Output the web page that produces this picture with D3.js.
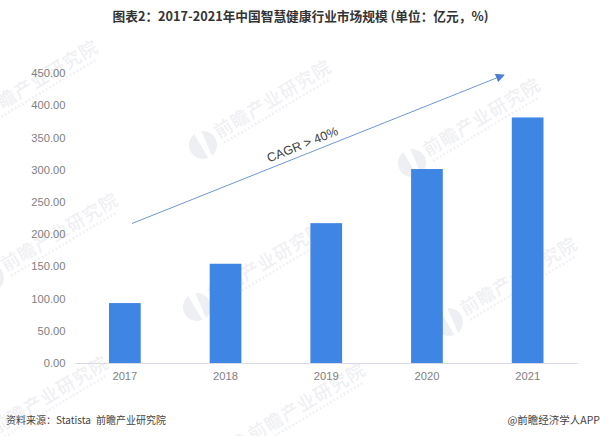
<!DOCTYPE html>
<html>
<head>
<meta charset="utf-8">
<script src="https://cdn.jsdelivr.net/npm/d3@7"></script>
<style>
  html, body { margin: 0; padding: 0; background: #fff; }
  svg { display: block; }
</style>
</head>
<body>
<svg id="chart" width="600" height="436"></svg>
<script>
// ── data ───────────────────────────────────────────────────────────────────
const years = ['2017', '2018', '2019', '2020', '2021'];
const marketSize = [93, 154, 217, 301, 381];
const yTicks = [0, 50, 100, 150, 200, 250, 300, 350, 400, 450];
const titleText = '图表2：2017-2021年中国智慧健康行业市场规模 (单位：亿元，%)';
const sourceText = '资料来源：Statista 前瞻产业研究院';
const creditText = '@前瞻经济学人APP';
const cagrText = 'CAGR > 40%';
const watermarkText = '前瞻产业研究院';

const svg = d3.select('#chart');
const latin = '"Liberation Sans", "Noto Sans CJK SC", sans-serif';
const cjk = '"Noto Sans CJK SC", sans-serif';

// ── watermark ──────────────────────────────────────────────────────────────
const marks = [[203, 145], [412, 163], [-30, 125], [-10, 278], [197, 307], [449, 322], [-20, 441], [237, 448]];
const wm = svg.append('g');
marks.forEach(([x, y]) => {
  const g = wm.append('g').attr('transform', `translate(${x},${y}) rotate(-31)`);
  g.append('circle').attr('r', 14).attr('fill', '#eeeff3');
  g.append('path').attr('d', 'M-2,-14 L6,-14 L2,14 L-2,14 Z').attr('fill', '#fff');
  g.append('text').attr('x', 17).attr('y', 3)
    .attr('font-family', cjk).attr('font-size', 18).attr('font-weight', 500)
    .attr('fill', '#eff0f3').attr('letter-spacing', 1).text(watermarkText);
  g.append('line').attr('x1', 19).attr('x2', 142).attr('y1', 9).attr('y2', 9)
    .attr('stroke', '#f1f2f5').attr('stroke-width', 2.5).attr('stroke-dasharray', '2 2');
});

// ── scales ─────────────────────────────────────────────────────────────────
const x = d3.scaleBand().domain(years).range([74.5, 578]).paddingInner(0.685).paddingOuter(0.3425);
const y = d3.scaleLinear().domain([0, 450]).range([363, 73]);

// ── bars ───────────────────────────────────────────────────────────────────
svg.append('g').selectAll('rect').data(years).join('rect')
  .attr('x', d => x(d)).attr('width', x.bandwidth())
  .attr('y', (d, i) => y(marketSize[i]))
  .attr('height', (d, i) => y(0) - y(marketSize[i]))
  .attr('fill', '#3f85e4');

// ── axes ───────────────────────────────────────────────────────────────────
const xAxis = svg.append('g').attr('transform', 'translate(0,363)')
  .call(d3.axisBottom(x).tickSize(0).tickPadding(9));
xAxis.select('.domain').attr('stroke', '#d9dde3').attr('stroke-width', 1);
xAxis.selectAll('text').attr('font-family', latin).attr('font-size', 11.2).attr('fill', '#7f7f7f');

const yAxis = svg.append('g').attr('transform', 'translate(74.5,0)')
  .call(d3.axisLeft(y).tickValues(yTicks).tickSize(0).tickPadding(9).tickFormat(d3.format('.2f')));
yAxis.select('.domain').remove();
yAxis.selectAll('text').attr('font-family', latin).attr('font-size', 11.2).attr('fill', '#7f7f7f');

// ── trend arrow ────────────────────────────────────────────────────────────
svg.append('defs').append('marker').attr('id', 'arrow')
  .attr('viewBox', '0 0 10 10').attr('refX', 9).attr('refY', 5)
  .attr('markerUnits', 'userSpaceOnUse').attr('markerWidth', 9).attr('markerHeight', 9)
  .attr('orient', 'auto')
  .append('path').attr('d', 'M0,0 L10,5 L0,10 Z').attr('fill', '#4a7fd0');
svg.append('path').attr('d', d3.line()([[132, 223.5], [504, 75]]))
  .attr('stroke', '#6f97d6').attr('stroke-width', 1).attr('fill', 'none')
  .attr('marker-end', 'url(#arrow)');
svg.append('text').attr('transform', 'translate(304,148.5) rotate(-22)')
  .attr('text-anchor', 'middle').attr('font-family', latin).attr('font-size', 12.5)
  .attr('fill', '#404040').text(cagrText);

// ── titles ─────────────────────────────────────────────────────────────────
svg.append('text').attr('x', 300.5).attr('y', 21).attr('text-anchor', 'middle')
  .attr('font-family', cjk).attr('font-size', 12.7).attr('font-weight', 700)
  .attr('fill', '#333').text(titleText);
svg.append('text').attr('x', 6).attr('y', 424)
  .attr('font-family', cjk).attr('font-size', 10).attr('word-spacing', 3)
  .attr('fill', '#444').text(sourceText);
svg.append('text').attr('x', 600).attr('y', 424).attr('text-anchor', 'end')
  .attr('font-family', cjk).attr('font-size', 10.5).attr('fill', '#444').text(creditText);
</script>
</body>
</html>
